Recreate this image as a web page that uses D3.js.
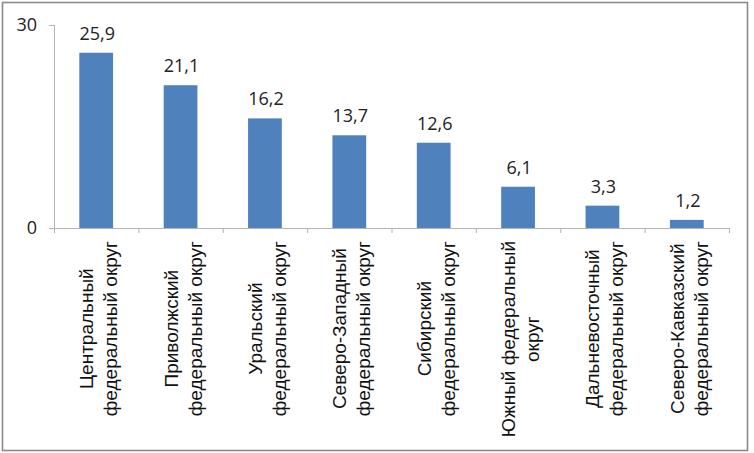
<!DOCTYPE html>
<html>
<head>
<meta charset="utf-8">
<script src="https://cdn.jsdelivr.net/npm/d3@7"></script>
<style>
  html, body { margin: 0; padding: 0; background: #ffffff; }
  svg { display: block; }
</style>
</head>
<body>
<svg id="chart" width="754" height="453"></svg>
<script>
const categories = [
  ["Центральный", "федеральный округ"],
  ["Приволжский", "федеральный округ"],
  ["Уральский", "федеральный округ"],
  ["Северо-Западный", "федеральный округ"],
  ["Сибирский", "федеральный округ"],
  ["Южный федеральный", "округ"],
  ["Дальневосточный", "федеральный округ"],
  ["Северо-Кавказский", "федеральный округ"]
];
const values = [25.9, 21.1, 16.2, 13.7, 12.6, 6.1, 3.3, 1.2];
const valueLabels = ["25,9", "21,1", "16,2", "13,7", "12,6", "6,1", "3,3", "1,2"];
const yTicks = [0, 30];

(function () {
const svg = d3.select("#chart");

// outer frame
svg.append("rect")
  .attr("x", 2.5).attr("y", 2.5)
  .attr("width", 745).attr("height", 448)
  .attr("fill", "#ffffff")
  .attr("stroke", "#8a8a8a")
  .attr("stroke-width", 1.6);

const pLeft = 54, pRight = 729, pTop = 25, pBottom = 228;
const ids = categories.map((c, i) => i);

const x = d3.scaleBand().domain(ids).range([pLeft, pRight]).paddingInner(0.6).paddingOuter(0.3);
const xb = d3.scaleLinear().domain([0, categories.length]).range([pLeft, pRight]);
const y = d3.scaleLinear().domain([0, 30]).range([pBottom, pTop]);

// bars
svg.append("g").selectAll("rect").data(values).join("rect")
  .attr("x", (d, i) => x(i))
  .attr("y", d => y(d))
  .attr("width", x.bandwidth())
  .attr("height", d => y(0) - y(d))
  .attr("fill", "#4F81BD");

// y axis
const yAxis = svg.append("g").attr("transform", `translate(${pLeft},0)`)
  .call(d3.axisLeft(y).tickValues(yTicks).tickSize(5).tickPadding(12).tickFormat(d => String(d)));
yAxis.select(".domain").attr("stroke", "#b3b3b3");
yAxis.selectAll(".tick line").attr("stroke", "#b3b3b3");
yAxis.selectAll(".tick text")
  .attr("font-family", "'Open Sans', 'Liberation Sans', sans-serif")
  .attr("font-size", 18).attr("fill", "#222").attr("dy", "0.32em");

// x axis
const xAxis = svg.append("g").attr("transform", `translate(0,${pBottom})`)
  .call(d3.axisBottom(xb).tickValues(d3.range(0, categories.length + 1)).tickSize(5).tickFormat(""));
xAxis.select(".domain").attr("stroke", "#b3b3b3");
xAxis.selectAll(".tick line").attr("stroke", "#b3b3b3");

// value labels
svg.append("g").selectAll("text").data(values).join("text")
  .attr("x", (d, i) => x(i) + x.bandwidth() / 2 + 1)
  .attr("y", d => y(d) - 13)
  .attr("text-anchor", "middle")
  .attr("font-family", "'Open Sans', 'Liberation Sans', sans-serif")
  .attr("font-size", 18)
  .attr("fill", "#222")
  .text((d, i) => valueLabels[i]);

// category labels (rotated)
const labelTop = 241;
const lineGap = 24;
const lg = svg.append("g");
categories.forEach((lines, i) => {
  const cx = x(i) + x.bandwidth() / 2 + 3;
  const g = lg.append("g");
  const texts = lines.map((ln) => g.append("text")
    .attr("font-family", "'Liberation Sans', Arial, sans-serif")
    .attr("font-size", 19)
    .attr("fill", "#111")
    .attr("text-anchor", "middle")
    .text(ln));
  const maxW = d3.max(texts, t => t.node().getComputedTextLength());
  const cy = labelTop + maxW / 2;
  const n = lines.length;
  texts.forEach((t, k) => {
    const off = (k - (n - 1) / 2) * lineGap;
    t.attr("transform", `translate(${cx + off + 6},${cy}) rotate(-90)`);
  });
});
})();
</script>
</body>
</html>
